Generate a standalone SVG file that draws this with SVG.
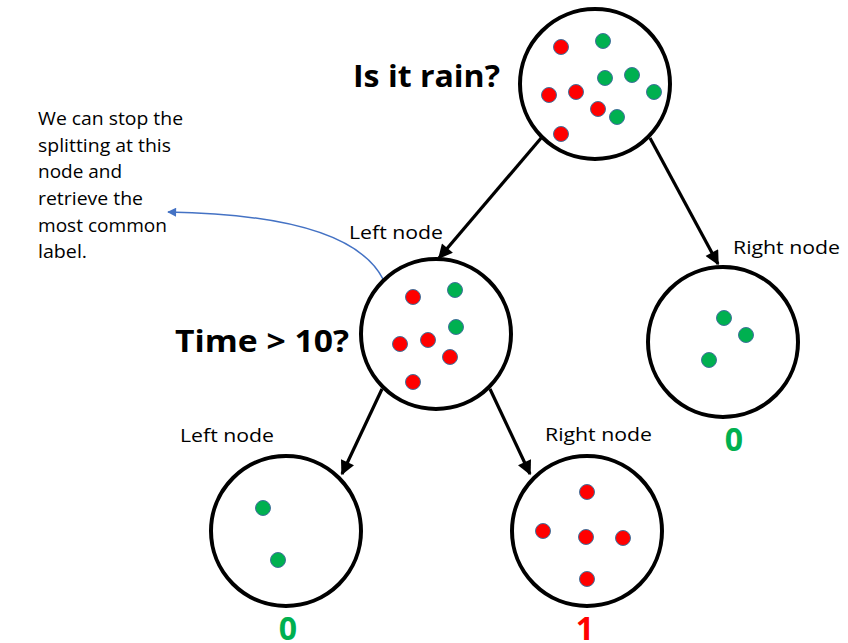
<svg xmlns="http://www.w3.org/2000/svg" width="848" height="643" viewBox="0 0 848 643">
<defs>
<style>
.node{fill:#fff;stroke:#000;stroke-width:4}
.r{fill:#FF0000;stroke:#41719C;stroke-width:1}
.g{fill:#00B050;stroke:#41719C;stroke-width:1}
.lbl{font-family:"Open Sans","Liberation Sans",sans-serif;font-size:19px;fill:#000}
.q{font-family:"Open Sans","Liberation Sans",sans-serif;font-size:31px;font-weight:bold;fill:#000}
.cls{font-family:"Open Sans","Liberation Sans",sans-serif;font-size:32px;font-weight:bold}
.note{font-family:"Open Sans","Liberation Sans",sans-serif;font-size:18.5px;fill:#000}
.edge{stroke:#000;stroke-width:3.2;fill:none}
</style>
<marker id="ah" viewBox="0 0 10 10" refX="9" refY="5" markerWidth="5" markerHeight="4.5" orient="auto" markerUnits="strokeWidth">
<path d="M0,0 L10,5 L0,10 z" fill="#000"/>
</marker>
<marker id="bh" viewBox="0 0 10 10" refX="9" refY="5" markerWidth="7" markerHeight="6" orient="auto" markerUnits="strokeWidth">
<path d="M0,0 L10,5 L0,10 z" fill="#4472C4"/>
</marker>
</defs>
<rect width="848" height="643" fill="#fff"/>
<g id="connectors">
<line class="edge" x1="542" y1="137" x2="439" y2="258" marker-end="url(#ah)"/>
<line class="edge" x1="650" y1="138" x2="718" y2="264" marker-end="url(#ah)"/>
<line class="edge" x1="382" y1="389" x2="342" y2="474" marker-end="url(#ah)"/>
<line class="edge" x1="490" y1="389" x2="530" y2="474" marker-end="url(#ah)"/>
<path d="M383,279 Q350,215 168,212" stroke="#4472C4" stroke-width="1.5" fill="none" marker-end="url(#bh)"/>
</g>
<g id="root">
<circle class="node" cx="595" cy="84" r="75"/>
<ellipse class="r" cx="561" cy="47" rx="7.5" ry="7.5"/>
<ellipse class="g" cx="603" cy="41" rx="7.5" ry="7.5"/>
<ellipse class="g" cx="605" cy="78" rx="7.5" ry="7.5"/>
<ellipse class="g" cx="632" cy="75" rx="7.5" ry="7.5"/>
<ellipse class="g" cx="654" cy="92" rx="7.5" ry="7.5"/>
<ellipse class="r" cx="549" cy="95" rx="7.5" ry="7.5"/>
<ellipse class="r" cx="576" cy="92" rx="7.5" ry="7.5"/>
<ellipse class="r" cx="598" cy="109" rx="7.5" ry="7.5"/>
<ellipse class="g" cx="617" cy="117" rx="7.5" ry="7.5"/>
<ellipse class="r" cx="561" cy="134" rx="7.5" ry="7.5"/>
<text class="q" x="353" y="87" textLength="147" lengthAdjust="spacingAndGlyphs">Is it rain?</text>
</g>
<g id="left-node">
<circle class="node" cx="436" cy="334" r="75"/>
<ellipse class="r" cx="413" cy="297" rx="7.5" ry="7.5"/>
<ellipse class="g" cx="455" cy="290" rx="7.5" ry="7.5"/>
<ellipse class="g" cx="456" cy="327" rx="7.5" ry="7.5"/>
<ellipse class="r" cx="400" cy="344" rx="7.5" ry="7.5"/>
<ellipse class="r" cx="428" cy="340" rx="7.5" ry="7.5"/>
<ellipse class="r" cx="450" cy="357" rx="7.5" ry="7.5"/>
<ellipse class="r" cx="413" cy="382" rx="7.5" ry="7.5"/>
<text class="lbl" x="349" y="239" textLength="94" lengthAdjust="spacingAndGlyphs">Left node</text>
<text class="q" x="175" y="352" textLength="174" lengthAdjust="spacingAndGlyphs">Time &gt; 10?</text>
</g>
<g id="right-node">
<circle class="node" cx="723" cy="342" r="75"/>
<ellipse class="g" cx="724" cy="318" rx="7.5" ry="7.5"/>
<ellipse class="g" cx="746" cy="335" rx="7.5" ry="7.5"/>
<ellipse class="g" cx="709" cy="360" rx="7.5" ry="7.5"/>
<text class="lbl" x="733" y="254" textLength="107" lengthAdjust="spacingAndGlyphs">Right node</text>
<text class="cls" x="734" y="451" text-anchor="middle" fill="#00B050">0</text>
</g>
<g id="left-left-node">
<circle class="node" cx="286" cy="531" r="75"/>
<ellipse class="g" cx="263" cy="508" rx="7.5" ry="7.5"/>
<ellipse class="g" cx="278" cy="560" rx="7.5" ry="7.5"/>
<text class="lbl" x="180" y="442" textLength="94" lengthAdjust="spacingAndGlyphs">Left node</text>
<text class="cls" x="288" y="640" text-anchor="middle" fill="#00B050">0</text>
</g>
<g id="left-right-node">
<circle class="node" cx="587" cy="531" r="75"/>
<ellipse class="r" cx="587" cy="492" rx="7.5" ry="7.5"/>
<ellipse class="r" cx="543" cy="531" rx="7.5" ry="7.5"/>
<ellipse class="r" cx="586" cy="537" rx="7.5" ry="7.5"/>
<ellipse class="r" cx="623" cy="538" rx="7.5" ry="7.5"/>
<ellipse class="r" cx="587" cy="579" rx="7.5" ry="7.5"/>
<text class="lbl" x="545" y="441" textLength="107" lengthAdjust="spacingAndGlyphs">Right node</text>
<text class="cls" x="585" y="640" text-anchor="middle" fill="#FF0000">1</text>
</g>
<g id="note">
<text class="note" x="38" y="125" textLength="145" lengthAdjust="spacingAndGlyphs">We can stop the</text>
<text class="note" x="38" y="152" textLength="133" lengthAdjust="spacingAndGlyphs">splitting at this</text>
<text class="note" x="38" y="178" textLength="84" lengthAdjust="spacingAndGlyphs">node and</text>
<text class="note" x="38" y="205" textLength="105" lengthAdjust="spacingAndGlyphs">retrieve the</text>
<text class="note" x="38" y="232" textLength="129" lengthAdjust="spacingAndGlyphs">most common</text>
<text class="note" x="38" y="258" textLength="49" lengthAdjust="spacingAndGlyphs">label.</text>
</g>
</svg>
